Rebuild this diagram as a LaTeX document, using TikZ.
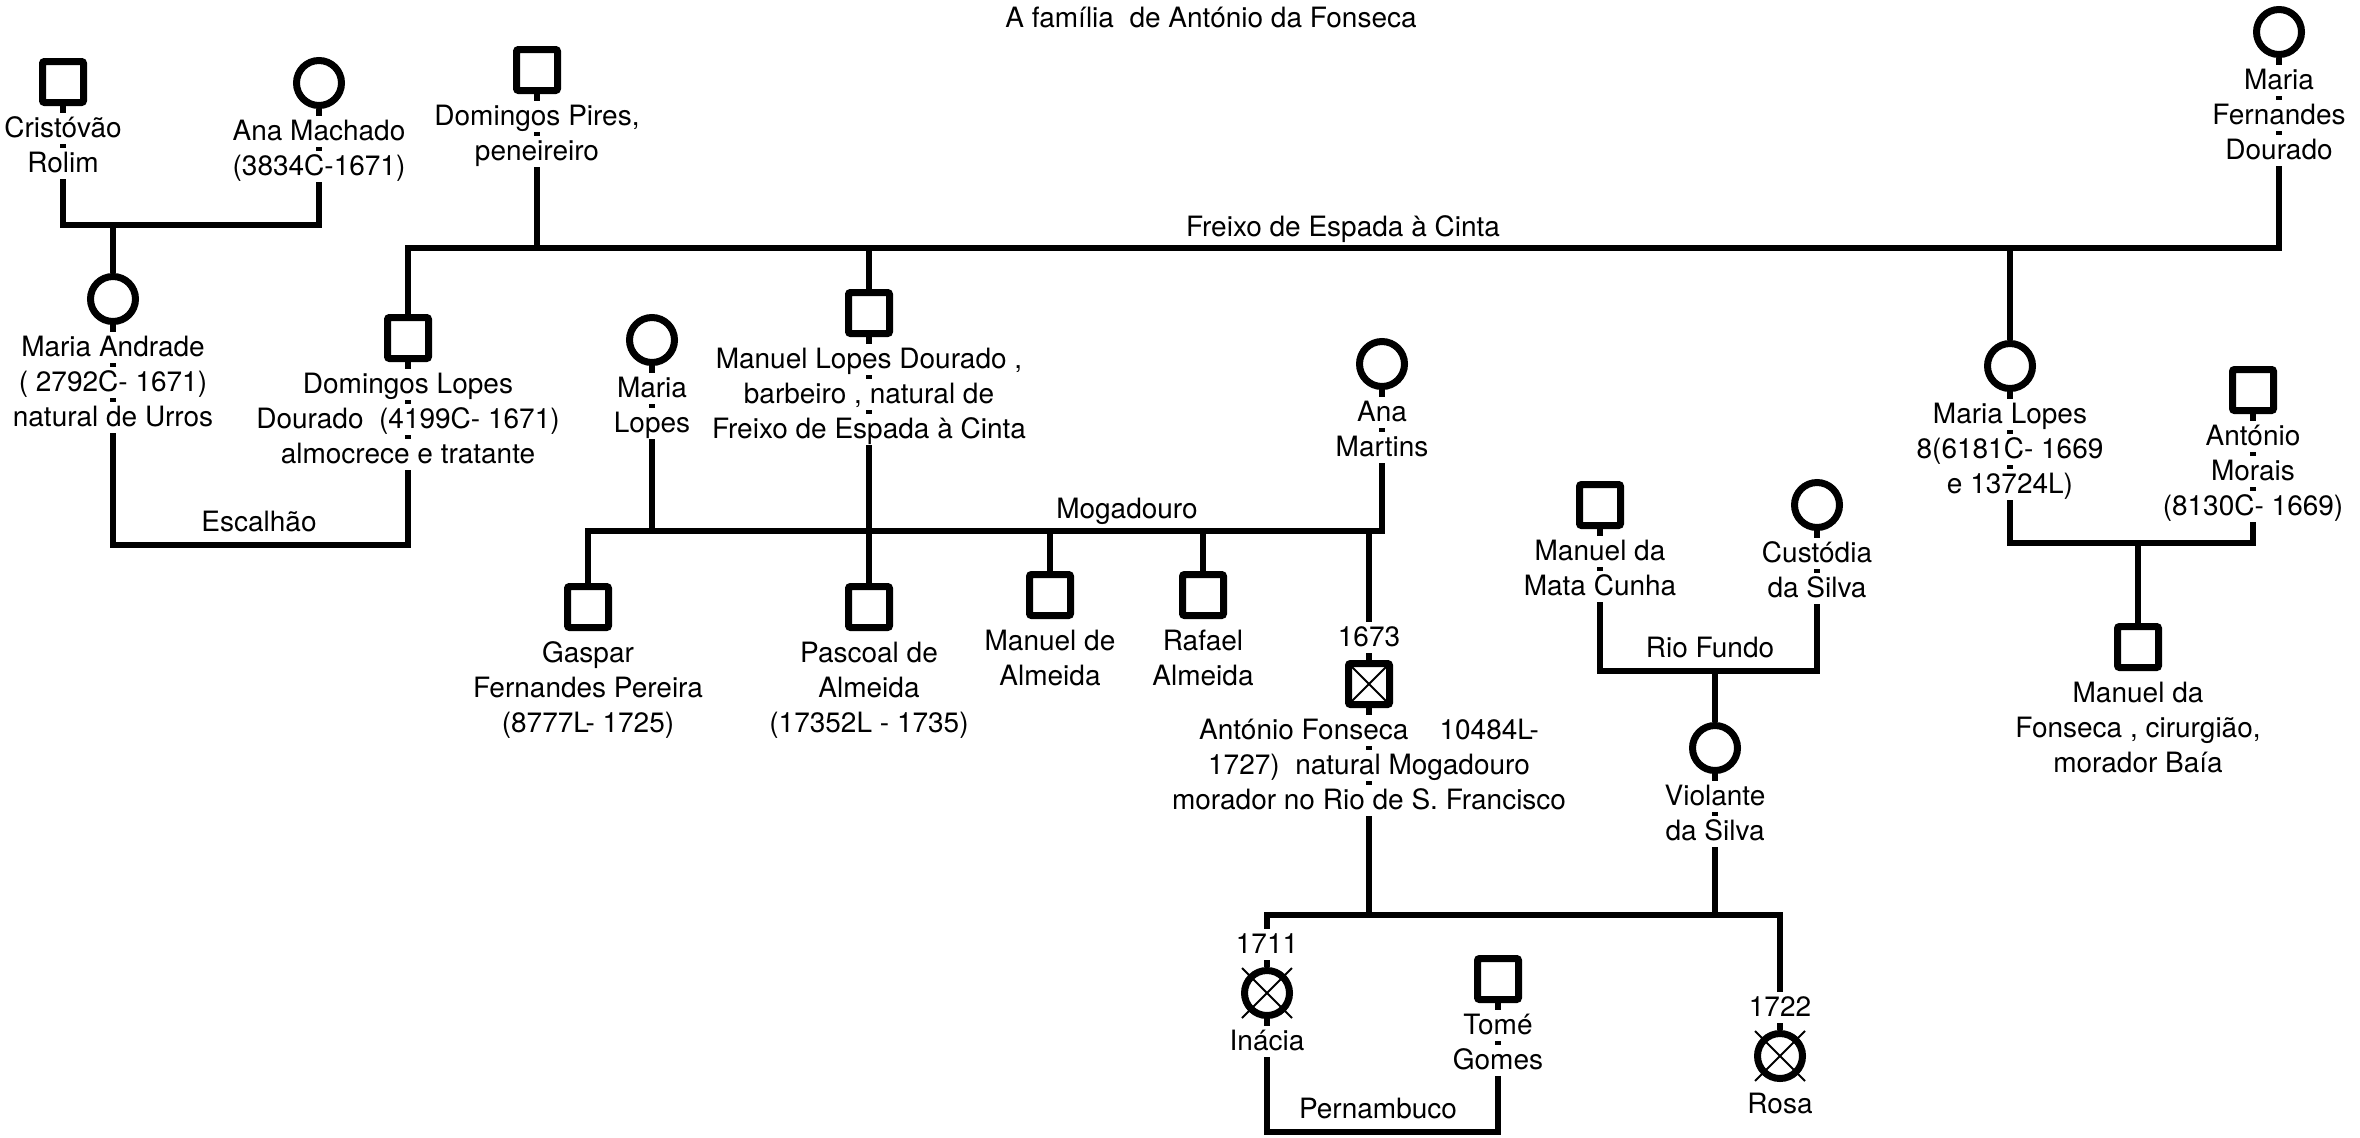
\documentclass[tikz,border=0pt]{standalone}
\usepackage{fontspec}
\setmainfont{TeX Gyre Heros}
\usetikzlibrary{positioning,backgrounds}
\setlength{\fboxsep}{0pt}
\newcommand{\wl}[1]{\colorbox{white}{\rule[-0.25em]{0pt}{1.11em}#1}}

\begin{document}
\begin{tikzpicture}[
    x=0.5pt, y=-0.5pt,
    font=\fontsize{14}{17.5}\selectfont,
    male/.style={rectangle, draw, fill=white, line width=3.5pt, rounded corners=1pt, minimum size=20.5pt, inner sep=0pt},
    female/.style={circle, draw, fill=white, line width=3.5pt, minimum size=22.5pt, inner sep=0pt},
    dead/.style={male, path picture={\draw[line width=1pt] (path picture bounding box.north west) -- (path picture bounding box.south east) (path picture bounding box.north east) -- (path picture bounding box.south west);}},
    who/.style={align=center, inner sep=0pt, outer sep=0pt, below=3.5pt of #1},
    year/.style={inner sep=0pt, outer sep=0pt, above=3.5pt of #1},
    place/.style={anchor=base},
    link/.style={line width=3.3pt},
    cross/.style={line width=1pt}
]
    \useasboundingbox (0,0) rectangle (2360,1137);

    \node[place] (title) at (1211,27) {A família~~de António da Fonseca};

    % oldest generation
    \node[male] (cr) at (63,82) {};
    \node[who=cr] (crt) {\wl{Cristóvão}\\\wl{Rolim}};
    \node[female] (am) at (319,83) {};
    \node[who=am] (amt) {\wl{Ana Machado}\\\wl{(3834C-1671)}};
    \node[male] (dp) at (537,70) {};
    \node[who=dp] (dpt) {\wl{Domingos Pires,}\\\wl{peneireiro}};
    \node[female] (mfd) at (2279,32) {};
    \node[who=mfd] (mfdt) {\wl{Maria}\\\wl{Fernandes}\\\wl{Dourado}};

    % second generation
    \node[female] (ma) at (113,299) {};
    \node[who=ma] (mat) {\wl{Maria Andrade}\\\wl{( 2792C- 1671)}\\\wl{natural de Urros}};
    \node[male] (dl) at (408,338) {};
    \node[who=dl] (dlt) {\wl{Domingos Lopes}\\\wl{Dourado~~(4199C- 1671)}\\\wl{almocrece e tratante}};
    \node[female] (mlo) at (652,340) {};
    \node[who=mlo] (mlot) {\wl{Maria}\\\wl{Lopes}};
    \node[male] (mld) at (869,313) {};
    \node[who=mld] (mldt) {\wl{Manuel Lopes Dourado ,}\\\wl{barbeiro , natural de}\\\wl{Freixo de Espada à Cinta}};
    \node[female] (amr) at (1382,364) {};
    \node[who=amr] (amrt) {\wl{Ana}\\\wl{Martins}};
    \node[female] (mlr) at (2010,366) {};
    \node[who=mlr] (mlrt) {\wl{Maria Lopes}\\\wl{8(6181C- 1669}\\\wl{e 13724L)}};
    \node[male] (amo) at (2253,390) {};
    \node[who=amo] (amot) {\wl{António}\\\wl{Morais}\\\wl{(8130C- 1669)}};

    % children of Mogadouro
    \node[male] (ga) at (588,607) {};
    \node[who=ga] (gat) {\wl{Gaspar}\\\wl{Fernandes Pereira}\\\wl{(8777L- 1725)}};
    \node[male] (pa) at (869,607) {};
    \node[who=pa] (pat) {\wl{Pascoal de}\\\wl{Almeida}\\\wl{(17352L - 1735)}};
    \node[male] (mal) at (1050,595) {};
    \node[who=mal] (malt) {\wl{Manuel de}\\\wl{Almeida}};
    \node[male] (ra) at (1203,595) {};
    \node[who=ra] (rat) {\wl{Rafael}\\\wl{Almeida}};
    \node[dead] (af) at (1369,684) {};
    \node[year=af] (afy) {\wl{1673}};
    \node[who=af] (aft) {\wl{António Fonseca~~~~10484L-}\\\wl{1727)~~natural Mogadouro}\\\wl{morador no Rio de S. Francisco}};

    \node[male] (mmc) at (1600,505) {};
    \node[who=mmc] (mmct) {\wl{Manuel da}\\\wl{Mata Cunha}};
    \node[female] (cs) at (1817,505) {};
    \node[who=cs] (cst) {\wl{Custódia}\\\wl{da Silva}};
    \node[female] (vs) at (1715,748) {};
    \node[who=vs] (vst) {\wl{Violante}\\\wl{da Silva}};
    \node[male] (mfo) at (2138,647) {};
    \node[who=mfo] (mfot) {\wl{Manuel da}\\\wl{Fonseca , cirurgião,}\\\wl{morador Baía}};

    % youngest generation
    \node[female] (ina) at (1267,993) {};
    \node[year=ina] (inay) {\wl{1711}};
    \node[who=ina] (inat) {\wl{Inácia}};
    \node[male] (tg) at (1498,979) {};
    \node[who=tg] (tgt) {\wl{Tomé}\\\wl{Gomes}};
    \node[female] (ro) at (1780,1056) {};
    \node[year=ro] (roy) {\wl{1722}};
    \node[who=ro] (rot) {\wl{Rosa}};
    \foreach \n in {ina,ro} {
        \draw[cross] ([shift={(-25,-25)}]\n.center) -- ([shift={(25,25)}]\n.center);
        \draw[cross] ([shift={(25,-25)}]\n.center) -- ([shift={(-25,25)}]\n.center);
    }

    % places
    \node[place] (esc) at (259,531) {Escalhão};
    \node[place] (fr) at (1343,236) {Freixo de Espada à Cinta};
    \node[place] (mo) at (1127,518) {Mogadouro};
    \node[place] (rf) at (1710,657) {Rio Fundo};
    \node[place] (pe) at (1378,1118) {Pernambuco};

    \coordinate (jca) at (113,225);
    \coordinate (jesc) at (260,545);
    \coordinate (jfr) at (537,248);
    \coordinate (jmo) at (1127,531);
    \coordinate (jmm) at (2138,543);
    \coordinate (jrf) at (1715,671);
    \coordinate (jch) at (1500,915);
    \coordinate (jpe) at (1378,1132);

    \begin{scope}[on background layer]
        \draw[link] (cr) |- (jca) -| (am);
        \draw[link] (jca) -- (ma);
        \draw[link] (ma) |- (jesc) -| (dl);
        \draw[link] (dl) |- (jfr) -| (mfd);
        \draw[link] (dp) -- (jfr);
        \draw[link] (mld |- jfr) -- (mld) -- (pa);
        \draw[link] (mlr |- jfr) -- (mlr);
        \draw[link] (ga) |- (jmo) -| (amr);
        \draw[link] (mlo) -- (mlo |- jmo);
        \draw[link] (mal |- jmo) -- (mal);
        \draw[link] (ra |- jmo) -- (ra);
        \draw[link] (af |- jmo) -- (af);
        \draw[link] (mlr) |- (jmm) -| (amo);
        \draw[link] (jmm) -- (mfo);
        \draw[link] (mmc) |- (jrf) -| (cs);
        \draw[link] (jrf) -- (vs);
        \draw[link] (ina) |- (jch) -| (ro);
        \draw[link] (af) -- (af |- jch);
        \draw[link] (vs) -- (vs |- jch);
        \draw[link] (ina) |- (jpe) -| (tg);
    \end{scope}

\end{tikzpicture}
\end{document}
